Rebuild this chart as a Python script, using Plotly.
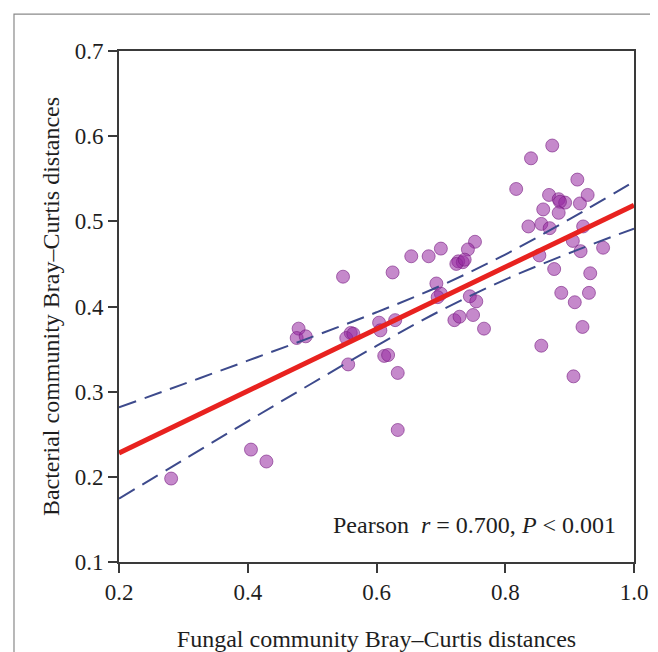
import plotly.graph_objects as go

# Scatter points: fungal (x) vs bacterial (y) Bray–Curtis distances
fungal = [0.281, 0.405, 0.429, 0.479, 0.476, 0.490, 0.548, 0.560, 0.553, 0.564,
          0.556, 0.604, 0.606, 0.612, 0.625, 0.629, 0.618, 0.633, 0.633,
          0.654, 0.681, 0.700, 0.753, 0.742, 0.727, 0.734, 0.724, 0.737,
          0.693, 0.700, 0.695, 0.745, 0.755, 0.721, 0.729, 0.750, 0.767,
          0.873, 0.840, 0.817, 0.912, 0.868, 0.883, 0.893, 0.885, 0.916,
          0.928, 0.859, 0.883, 0.836, 0.856, 0.869, 0.921, 0.905, 0.917,
          0.952, 0.853, 0.876, 0.932, 0.887, 0.908, 0.930, 0.920, 0.856, 0.906]
bacterial = [0.198, 0.232, 0.218, 0.374, 0.363, 0.365, 0.435, 0.369, 0.363, 0.368,
             0.332, 0.381, 0.372, 0.342, 0.440, 0.384, 0.343, 0.322, 0.255,
             0.459, 0.459, 0.468, 0.476, 0.467, 0.453, 0.452, 0.450, 0.455,
             0.427, 0.415, 0.411, 0.412, 0.406, 0.384, 0.388, 0.390, 0.374,
             0.589, 0.574, 0.538, 0.549, 0.531, 0.526, 0.522, 0.523, 0.521,
             0.531, 0.514, 0.510, 0.494, 0.497, 0.492, 0.494, 0.477, 0.465,
             0.469, 0.460, 0.444, 0.439, 0.416, 0.405, 0.416, 0.376, 0.354, 0.318]

# Fitted line and 95% confidence band
fit_x = [0.2, 0.3, 0.4, 0.5, 0.6, 0.7, 0.8, 0.9, 1.0]
fit_y = [0.228, 0.2644, 0.3008, 0.3371, 0.3735, 0.4099, 0.4463, 0.4827, 0.5190]
upper_y = [0.2815, 0.3089, 0.3364, 0.3643, 0.3932, 0.4245, 0.4610, 0.5026, 0.5465]
lower_y = [0.1745, 0.2199, 0.2652, 0.3099, 0.3538, 0.3953, 0.4316, 0.4628, 0.4915]

x_ticks = [0.2, 0.4, 0.6, 0.8, 1.0]
x_tick_labels = ["0.2", "0.4", "0.6", "0.8", "1.0"]
y_ticks = [0.1, 0.2, 0.3, 0.4, 0.5, 0.6, 0.7]
y_tick_labels = ["0.1", "0.2", "0.3", "0.4", "0.5", "0.6", "0.7"]

FONT = "Liberation Serif, Times New Roman, serif"
AXIS_COLOR = "#3a3a3a"
TEXT_COLOR = "#1e1e1e"

fig = go.Figure()

fig.add_trace(go.Scatter(
    x=fungal, y=bacterial, mode="markers",
    marker=dict(size=13, color="rgba(150,40,160,0.55)",
                line=dict(color="rgba(120,30,130,0.6)", width=1)),
    showlegend=False, hoverinfo="skip"))

for band in (upper_y, lower_y):
    fig.add_trace(go.Scatter(
        x=fit_x, y=band, mode="lines",
        line=dict(color="#3d4a8c", width=2, dash="18px,9px", shape="spline"),
        showlegend=False, hoverinfo="skip"))

fig.add_trace(go.Scatter(
    x=fit_x, y=fit_y, mode="lines",
    line=dict(color="#e8221f", width=5),
    showlegend=False, hoverinfo="skip"))

fig.update_xaxes(
    range=[0.2, 1.0], tickvals=x_ticks, ticktext=x_tick_labels,
    ticks="outside", ticklen=9, tickwidth=1.5, tickcolor=AXIS_COLOR,
    showline=True, linecolor=AXIS_COLOR, linewidth=1.6, mirror=True,
    showgrid=False, zeroline=False,
    tickfont=dict(family=FONT, size=23, color=TEXT_COLOR),
    title=dict(text="Fungal community Bray–Curtis distances",
               font=dict(family=FONT, size=24, color=TEXT_COLOR), standoff=26))

fig.update_yaxes(
    range=[0.1, 0.7], tickvals=y_ticks, ticktext=y_tick_labels,
    ticks="outside", ticklen=9, tickwidth=1.5, tickcolor=AXIS_COLOR,
    showline=True, linecolor=AXIS_COLOR, linewidth=1.6, mirror=True,
    showgrid=False, zeroline=False,
    tickfont=dict(family=FONT, size=23, color=TEXT_COLOR),
    title=dict(text="Bacterial community Bray–Curtis distances",
               font=dict(family=FONT, size=24, color=TEXT_COLOR), standoff=8))

fig.add_annotation(
    x=0.975, y=0.143, xref="x", yref="y", xanchor="right", yanchor="middle",
    text="Pearson  <i>r</i> = 0.700, <i>P</i> < 0.001", showarrow=False,
    font=dict(family=FONT, size=24, color=TEXT_COLOR))

# outer image frame (left and top edges)
fig.add_shape(type="path", xref="paper", yref="paper",
              path="M -0.2039,-0.2 L -0.2039,1.0721 L 1.07,1.0721",
              line=dict(color="#8a8a8a", width=1.2))

fig.update_layout(
    width=658, height=652,
    margin=dict(l=111, r=32, t=43, b=96),
    paper_bgcolor="white", plot_bgcolor="white",
    font=dict(family=FONT))

fig.write_html("out.html")
